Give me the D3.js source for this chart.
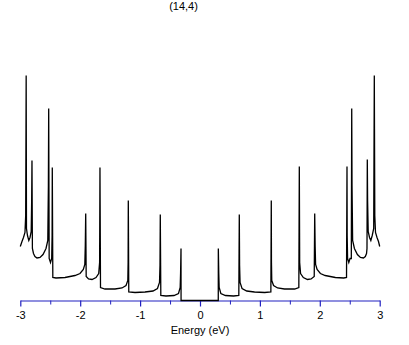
<!DOCTYPE html>
<html>
<head>
<meta charset="utf-8">
<script src="https://cdn.jsdelivr.net/npm/d3@7"></script>
<style>
  body { margin: 0; background: #fff; }
  text { font-family: "Liberation Sans", Arial, sans-serif; }
</style>
</head>
<body>
<div id="chart"></div>
<script>
// density of states, (14,4) tube
let title = "(14,4)";
let xLabel = "Energy (eV)";

let leftEnergy = [-3.0, -2.972, -2.947, -2.922, -2.910, -2.905, -2.902, -2.897, -2.880, -2.858,
  -2.838, -2.818, -2.810, -2.805, -2.798, -2.780, -2.755, -2.721, -2.671, -2.621,
  -2.571, -2.541, -2.531, -2.526, -2.518, -2.496, -2.476, -2.469, -2.466, -2.457,
  -2.404, -2.254, -2.087, -2.003, -1.948, -1.923, -1.915, -1.908, -1.900, -1.861,
  -1.803, -1.736, -1.691, -1.676, -1.670, -1.661, -1.586, -1.419, -1.302, -1.235,
  -1.205, -1.200, -1.197, -1.189, -1.085, -0.918, -0.785, -0.710, -0.676, -0.668,
  -0.663, -0.654, -0.568, -0.434, -0.359, -0.331, -0.324, -0.317, -0.316];
let leftDos = [0.54, 0.59, 0.63, 0.68, 0.85, 1.72, 2.25, 0.72, 0.65, 0.60,
  0.63, 0.69, 1.00, 1.40, 0.52, 0.47, 0.44, 0.425, 0.43, 0.46,
  0.52, 0.60, 1.15, 1.92, 0.42, 0.38, 0.42, 0.65, 1.33, 0.23,
  0.225, 0.23, 0.25, 0.27, 0.31, 0.36, 0.55, 0.87, 0.24, 0.215,
  0.21, 0.23, 0.27, 0.38, 1.33, 0.13, 0.115, 0.115, 0.125, 0.15,
  0.20, 0.38, 1.00, 0.085, 0.08, 0.085, 0.095, 0.12, 0.18, 0.35,
  0.86, 0.05, 0.045, 0.05, 0.07, 0.13, 0.28, 0.52, 0];

let rightEnergy = [0.305, 0.306, 0.313, 0.320, 0.348, 0.425, 0.56, 0.648, 0.656, 0.661,
  0.669, 0.702, 0.78, 0.91, 1.08, 1.183, 1.190, 1.193, 1.198, 1.228,
  1.295, 1.41, 1.58, 1.650, 1.658, 1.664, 1.679, 1.725, 1.795, 1.855,
  1.907, 1.915, 1.922, 1.930, 1.955, 2.01, 2.09, 2.26, 2.40, 2.446,
  2.454, 2.457, 2.464, 2.484, 2.505, 2.526, 2.533, 2.538, 2.548, 2.578,
  2.628, 2.678, 2.728, 2.760, 2.780, 2.788, 2.793, 2.798, 2.808, 2.830,
  2.852, 2.875, 2.900, 2.910, 2.913, 2.918, 2.930, 2.955, 2.980, 3.0];
let rightDos = [0, 0.52, 0.28, 0.13, 0.07, 0.05, 0.045, 0.05, 0.86, 0.35,
  0.18, 0.12, 0.095, 0.085, 0.08, 0.085, 1.00, 0.38, 0.20, 0.15,
  0.125, 0.115, 0.115, 0.13, 1.34, 0.38, 0.27, 0.23, 0.21, 0.215,
  0.24, 0.87, 0.55, 0.36, 0.31, 0.27, 0.25, 0.23, 0.225, 0.23,
  1.34, 0.65, 0.42, 0.38, 0.42, 0.42, 1.92, 1.15, 0.60, 0.52,
  0.46, 0.43, 0.425, 0.44, 0.47, 0.52, 1.41, 1.00, 0.69, 0.63,
  0.60, 0.65, 0.72, 2.25, 1.72, 0.85, 0.68, 0.63, 0.59, 0.54];

let majorTicks = [-3, -2, -1, 0, 1, 2, 3];
let tickLabels = ["-3", "-2", "-1", "0", "1", "2", "3"];
let minorTicks = [-2.5, -1.5, -0.5, 0.5, 1.5, 2.5];

function makeChart(container) {
  let width = 409;
  let height = 345;
  let axisY = 300.5;

  let svg = d3
    .select(container)
    .append("svg")
    .attr("width", width)
    .attr("height", height);

  let x = d3.scaleLinear().domain([-3, 3]).range([20.3, 379.7]);
  let y = d3.scaleLinear().domain([0, 2.4]).range([axisY, axisY - 240]);

  // minor ticks, no labels
  let minor = svg
    .append("g")
    .attr("transform", "translate(0," + axisY + ")")
    .call(
      d3.axisBottom(x)
        .tickValues(minorTicks)
        .tickSize(4)
        .tickSizeOuter(0)
        .tickFormat("")
    );
  minor.select(".domain").remove();
  minor.selectAll(".tick line").attr("stroke", "#2020c0");

  let axis = svg
    .append("g")
    .attr("transform", "translate(0," + axisY + ")")
    .call(
      d3.axisBottom(x)
        .tickValues(majorTicks)
        .tickSize(6)
        .tickSizeOuter(0)
        .tickPadding(5)
        .tickFormat((d, i) => tickLabels[i])
    );
  axis.select(".domain").attr("stroke", "#2020c0").attr("stroke-width", 1.2);
  axis.selectAll(".tick line").attr("stroke", "#2020c0").attr("stroke-width", 1.2);
  axis.selectAll(".tick text")
    .attr("fill", "#000")
    .style("font-size", "11px");

  let points = [];
  for (let i = 0; i < leftEnergy.length; i++) {
    points.push({ e: leftEnergy[i], d: leftDos[i] });
  }
  for (let i = 0; i < rightEnergy.length; i++) {
    points.push({ e: rightEnergy[i], d: rightDos[i] });
  }

  let line = d3
    .line()
    .x(p => x(p.e))
    .y(p => y(p.d));

  svg
    .append("path")
    .datum(points)
    .attr("fill", "none")
    .attr("stroke", "#000")
    .attr("stroke-width", 1.3)
    .attr("d", line);

  svg
    .append("text")
    .attr("x", 183.5)
    .attr("y", 10)
    .attr("text-anchor", "middle")
    .style("font-size", "11px")
    .text(title);

  svg
    .append("text")
    .attr("x", x(0))
    .attr("y", 334)
    .attr("text-anchor", "middle")
    .style("font-size", "11px")
    .text(xLabel);
}

makeChart("#chart");
</script>
</body>
</html>
